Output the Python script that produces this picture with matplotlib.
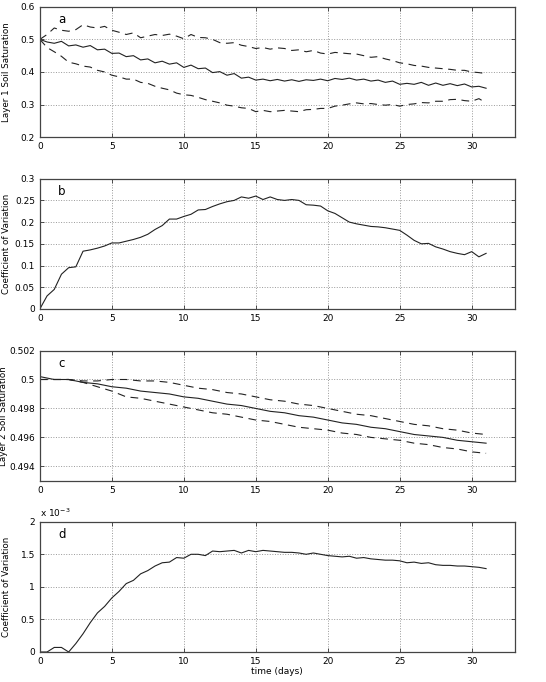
import numpy as np
import matplotlib
matplotlib.use('Agg')
import matplotlib.pyplot as plt
from matplotlib.ticker import FuncFormatter

# time axis (days)
t_half = np.arange(0, 31.01, 0.5)
t_day = np.arange(0, 32, 1)

# panel a: layer 1 soil saturation (mean and +/- bounds)
sat1_mean = [0.500, 0.492, 0.488, 0.494, 0.480, 0.483, 0.476, 0.481, 0.468, 0.470,
             0.457, 0.458, 0.447, 0.450, 0.437, 0.440, 0.428, 0.433, 0.424, 0.428,
             0.414, 0.421, 0.410, 0.412, 0.398, 0.401, 0.390, 0.395, 0.381, 0.384,
             0.375, 0.378, 0.373, 0.377, 0.372, 0.376, 0.371, 0.376, 0.374, 0.378,
             0.373, 0.380, 0.377, 0.381, 0.375, 0.378, 0.372, 0.375, 0.368, 0.372,
             0.362, 0.365, 0.362, 0.368, 0.359, 0.366, 0.359, 0.364, 0.358, 0.363,
             0.354, 0.356, 0.350]
sat1_upper = [0.500, 0.515, 0.535, 0.528, 0.525, 0.530, 0.545, 0.538, 0.535, 0.540,
              0.528, 0.522, 0.515, 0.520, 0.505, 0.510, 0.515, 0.512, 0.516, 0.510,
              0.502, 0.515, 0.506, 0.505, 0.500, 0.490, 0.488, 0.490, 0.482, 0.478,
              0.472, 0.475, 0.470, 0.474, 0.472, 0.466, 0.468, 0.462, 0.466, 0.458,
              0.455, 0.460, 0.458, 0.456, 0.455, 0.450, 0.445, 0.447, 0.440, 0.435,
              0.428, 0.425, 0.420, 0.418, 0.414, 0.412, 0.410, 0.408, 0.405, 0.405,
              0.400, 0.398, 0.395]
sat1_lower = [0.500, 0.475, 0.462, 0.448, 0.430, 0.425, 0.418, 0.415, 0.405, 0.400,
              0.390, 0.385, 0.378, 0.378, 0.368, 0.365, 0.356, 0.350, 0.345, 0.335,
              0.330, 0.328, 0.322, 0.315, 0.310, 0.305, 0.298, 0.295, 0.290, 0.288,
              0.278, 0.282, 0.278, 0.280, 0.282, 0.280, 0.278, 0.284, 0.285, 0.288,
              0.288, 0.295, 0.298, 0.302, 0.305, 0.302, 0.303, 0.300, 0.298, 0.300,
              0.295, 0.300, 0.302, 0.306, 0.305, 0.310, 0.310, 0.315, 0.316, 0.312,
              0.310, 0.318, 0.305]

# panel b: coefficient of variation, layer 1
cv1 = [0.000, 0.030, 0.045, 0.080, 0.095, 0.097, 0.133, 0.136, 0.140, 0.145,
       0.152, 0.152, 0.156, 0.160, 0.165, 0.172, 0.183, 0.192, 0.207, 0.207,
       0.213, 0.218, 0.228, 0.229, 0.236, 0.242, 0.247, 0.250, 0.258, 0.255,
       0.260, 0.252, 0.258, 0.252, 0.250, 0.252, 0.250, 0.240, 0.239, 0.237,
       0.226, 0.220, 0.210, 0.200, 0.196, 0.193, 0.190, 0.189, 0.187, 0.184,
       0.181, 0.170, 0.158, 0.150, 0.151, 0.143, 0.138, 0.132, 0.128, 0.125,
       0.132, 0.120, 0.128]

# panel c: layer 2 soil saturation (daily)
sat2_mean = [0.5002, 0.5000, 0.5000, 0.4998, 0.4997, 0.4995, 0.4994, 0.4992, 0.4991, 0.4990,
             0.4988, 0.4987, 0.4985, 0.4983, 0.4982, 0.4980, 0.4978, 0.4977, 0.4975, 0.4974,
             0.4972, 0.4970, 0.4969, 0.4967, 0.4966, 0.4964, 0.4962, 0.4961, 0.4960, 0.4958,
             0.4957, 0.4956]
sat2_upper = [0.5000, 0.5000, 0.5000, 0.4999, 0.4999, 0.5000, 0.5000, 0.4999, 0.4999, 0.4998,
              0.4996, 0.4994, 0.4993, 0.4991, 0.4990, 0.4988, 0.4986, 0.4985, 0.4983, 0.4982,
              0.4980, 0.4978, 0.4976, 0.4975, 0.4973, 0.4971, 0.4969, 0.4968, 0.4966, 0.4965,
              0.4963, 0.4962]
sat2_lower = [0.5000, 0.5000, 0.5000, 0.4998, 0.4995, 0.4992, 0.4988, 0.4987, 0.4985, 0.4983,
              0.4981, 0.4979, 0.4977, 0.4976, 0.4974, 0.4972, 0.4971, 0.4969, 0.4967, 0.4966,
              0.4965, 0.4963, 0.4962, 0.4960, 0.4959, 0.4958, 0.4956, 0.4955, 0.4953, 0.4952,
              0.4950, 0.4949]

# panel d: coefficient of variation, layer 2 (units of 1e-3)
cv2 = [0.00, 0.00, 0.07, 0.07, 0.00, 0.13, 0.28, 0.45, 0.60, 0.70,
       0.83, 0.93, 1.05, 1.10, 1.20, 1.25, 1.32, 1.37, 1.38, 1.45,
       1.44, 1.50, 1.50, 1.48, 1.55, 1.54, 1.55, 1.56, 1.52, 1.56,
       1.54, 1.56, 1.55, 1.54, 1.53, 1.53, 1.52, 1.50, 1.52, 1.50,
       1.48, 1.47, 1.46, 1.47, 1.44, 1.45, 1.43, 1.42, 1.41, 1.41,
       1.40, 1.37, 1.38, 1.36, 1.37, 1.34, 1.33, 1.33, 1.32, 1.32,
       1.31, 1.30, 1.28]

plt.rcParams['font.family'] = 'DejaVu Sans'
plt.rcParams['font.size'] = 6.5

fig = plt.figure(figsize=(5.46, 6.82), dpi=100)
left, width, height = 0.073, 0.870, 0.191
bottoms = [0.799, 0.547, 0.295, 0.044]
axes = [fig.add_axes([left, b, width, height]) for b in bottoms]

fmt = FuncFormatter(lambda v, p: '%g' % round(v, 6))
dash = (0, (7, 5))

def style(ax, ylim, yticks, letter, label, lx=-0.06):
    ax.set_xlim(0, 33)
    ax.set_xticks([0, 5, 10, 15, 20, 25, 30])
    ax.set_ylim(*ylim)
    ax.set_yticks(yticks)
    ax.yaxis.set_major_formatter(fmt)
    ax.grid(True, linestyle=':', color='#999999', linewidth=0.7)
    ax.tick_params(direction='in', top=True, right=True, length=3, width=0.6,
                   labelsize=6.5, color='#333333')
    for s in ax.spines.values():
        s.set_linewidth(0.9)
        s.set_color('#444444')
    ax.text(0.038, 0.9, letter, transform=ax.transAxes, fontsize=8.5, va='center')
    ax.set_ylabel(label, fontsize=6.3)
    ax.yaxis.set_label_coords(lx, 0.5)

lc = '#222222'
ax = axes[0]
ax.plot(t_half, sat1_mean, color=lc, lw=0.8)
ax.plot(t_half, sat1_upper, color=lc, lw=0.8, ls=dash)
ax.plot(t_half, sat1_lower, color=lc, lw=0.8, ls=dash)
style(ax, (0.2, 0.6), [0.2, 0.3, 0.4, 0.5, 0.6], 'a', 'Layer 1 Soil Saturation')

ax = axes[1]
ax.plot(t_half, cv1, color=lc, lw=0.8)
style(ax, (0, 0.3), [0, 0.05, 0.1, 0.15, 0.2, 0.25, 0.3], 'b', 'Coefficient of Variation')

ax = axes[2]
ax.plot(t_day, sat2_mean, color=lc, lw=0.8)
ax.plot(t_day, sat2_upper, color=lc, lw=0.8, ls=dash)
ax.plot(t_day, sat2_lower, color=lc, lw=0.8, ls=dash)
style(ax, (0.493, 0.502), [0.494, 0.496, 0.498, 0.5, 0.502], 'c', 'Layer 2 Soil Saturation', lx=-0.068)

ax = axes[3]
ax.plot(t_half, cv2, color=lc, lw=0.8)
style(ax, (0, 2), [0, 0.5, 1, 1.5, 2], 'd', 'Coefficient of Variation')
ax.text(0.0, 1.02, r'x 10$^{-3}$', transform=ax.transAxes, fontsize=6.5, va='bottom')
ax.set_xlabel('time (days)', fontsize=6.5, labelpad=1)

fig.savefig('out.png', dpi=100)
